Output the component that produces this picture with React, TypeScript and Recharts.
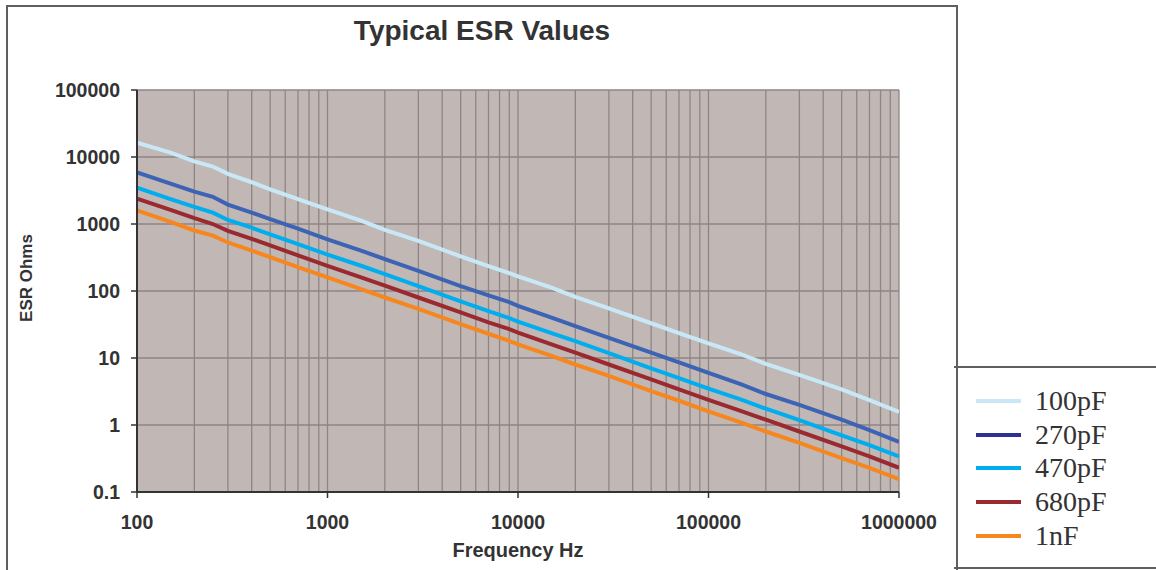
import { LineChart, Line, XAxis, YAxis, CartesianGrid } from "recharts";

// Frequencies (Hz) the curves were sampled at
const FREQ = [
  100, 150, 200, 250, 300, 400, 500, 700, 1000, 1500, 2000, 3000, 5000, 7000, 9000, 10000, 15000,
  20000, 30000, 50000, 70000, 100000, 150000, 200000, 300000, 500000, 700000, 1000000,
];

// ESR in ohms
const ESR_100PF = [
  16400, 11600, 8600, 7200, 5600, 4200, 3300, 2350, 1650, 1120, 820, 560, 330, 235, 185, 165, 112,
  82, 55, 33, 23.5, 16.5, 11.2, 8.2, 5.6, 3.4, 2.35, 1.57,
];
const ESR_270PF = [
  5900, 4000, 3050, 2550, 1950, 1480, 1180, 850, 590, 400, 300, 200, 118, 86, 68, 60, 40, 30, 20, 12,
  8.6, 6, 4, 2.9, 2, 1.2, 0.84, 0.56,
];
const ESR_470PF = [
  3500, 2350, 1800, 1480, 1150, 880, 700, 500, 350, 238, 178, 118, 70, 50, 39.5, 35, 23.5, 17.8,
  11.8, 7, 5, 3.5, 2.38, 1.75, 1.18, 0.7, 0.5, 0.34,
];
const ESR_680PF = [
  2400, 1620, 1220, 1000, 790, 600, 480, 340, 238, 160, 120, 80, 48, 34, 27, 24, 16, 12, 8, 4.8, 3.4,
  2.38, 1.6, 1.2, 0.8, 0.48, 0.34, 0.23,
];
const ESR_1NF = [
  1600, 1080, 800, 670, 530, 400, 320, 228, 160, 107, 80, 54, 32, 23, 18, 16, 10.8, 8, 5.4, 3.2, 2.3,
  1.6, 1.08, 0.8, 0.54, 0.32, 0.23, 0.155,
];

const X_DECADES = [100, 1000, 10000, 100000, 1000000];
const Y_TICKS = [0.1, 1, 10, 100, 1000, 10000, 100000];

const SERIES = [
  { key: "c100p", name: "100pF", values: ESR_100PF, color: "#c9e8f7", legend: "#c9e8f7" },
  { key: "c270p", name: "270pF", values: ESR_270PF, color: "#3d64b4", legend: "#2e3192" },
  { key: "c470p", name: "470pF", values: ESR_470PF, color: "#00adef", legend: "#00adef" },
  { key: "c680p", name: "680pF", values: ESR_680PF, color: "#9b2a30", legend: "#9b2a30" },
  { key: "c1n", name: "1nF", values: ESR_1NF, color: "#f7861e", legend: "#f7861e" },
];

const rows = FREQ.map((f, i) => {
  const r: Record<string, number> = { f };
  SERIES.forEach((s) => (r[s.key] = s.values[i]));
  return r;
});

// every 1..9 x decade gets a vertical grid line
const X_GRID: number[] = [];
X_DECADES.slice(0, -1).forEach((d) => {
  for (let m = 1; m < 10; m++) X_GRID.push(d * m);
});
X_GRID.push(1000000);

const FONT = '"Liberation Sans", Arial, sans-serif';
const INK = "#333333";
const PLOT_BG = "#c1b8b5";
const GRID = "#8e8585";

function XTick(props: any) {
  const { x, y, payload } = props;
  if (!X_DECADES.includes(payload.value)) return null;
  return (
    <g>
      <line x1={x} x2={x} y1={y} y2={y + 6} stroke={INK} strokeWidth={1.5} />
      <text
        x={x}
        y={y + 37}
        textAnchor="middle"
        fill={INK}
        fontFamily={FONT}
        fontWeight="bold"
        fontSize={19.5}
      >
        {payload.value}
      </text>
    </g>
  );
}

function YTitle(props: any) {
  const { viewBox } = props;
  const cx = 26;
  const cy = viewBox.y + viewBox.height / 2 - 13;
  return (
    <text
      x={cx}
      y={cy}
      transform={`rotate(-90 ${cx} ${cy})`}
      textAnchor="middle"
      dominantBaseline="central"
      fill={INK}
      fontFamily={FONT}
      fontWeight="bold"
      fontSize={17}
    >
      ESR Ohms
    </text>
  );
}

export default function App() {
  return (
    <div
      style={{
        position: "absolute",
        left: 0,
        top: 0,
        width: 1156,
        height: 570,
        background: "#fff",
        overflow: "hidden",
      }}
    >
      <div
        style={{
          position: "absolute",
          left: 6,
          top: 5,
          width: 952,
          height: 600,
          border: "2px solid #5f5f5f",
          boxSizing: "border-box",
        }}
      />
      <div
        style={{
          position: "absolute",
          left: 954,
          top: 366,
          width: 220,
          height: 203,
          borderTop: "2px solid #5f5f5f",
          borderBottom: "2px solid #5f5f5f",
          boxSizing: "border-box",
        }}
      />
      <div
        style={{
          position: "absolute",
          left: 7,
          width: 950,
          top: 15,
          textAlign: "center",
          fontFamily: FONT,
          fontWeight: "bold",
          fontSize: 28,
          color: INK,
        }}
      >
        Typical ESR Values
      </div>

      <div style={{ position: "absolute", left: 0, top: 0 }}>
        <LineChart
          width={957}
          height={570}
          data={rows}
          margin={{ top: 90, right: 58, bottom: 0, left: 0 }}
        >
          <CartesianGrid
            fill={PLOT_BG}
            fillOpacity={1}
            stroke={GRID}
            strokeWidth={1.3}
            horizontalValues={Y_TICKS}
          />
          <XAxis
            dataKey="f"
            type="number"
            scale="log"
            domain={[100, 1000000]}
            allowDataOverflow
            ticks={X_GRID}
            interval={0}
            tick={<XTick />}
            tickLine={false}
            tickSize={0}
            tickMargin={0}
            height={78}
            axisLine={{ stroke: INK, strokeWidth: 2 }}
            label={{
              value: "Frequency Hz",
              position: "insideBottom",
              offset: 13,
              fill: INK,
              fontFamily: FONT,
              fontWeight: "bold",
              fontSize: 20,
            }}
          />
          <YAxis
            type="number"
            scale="log"
            domain={[0.1, 100000]}
            allowDataOverflow
            ticks={Y_TICKS}
            interval={0}
            width={137}
            tickSize={6}
            tickMargin={11}
            tickFormatter={(v: number) => String(v)}
            tick={{ fill: INK, fontFamily: FONT, fontWeight: "bold", fontSize: 19.5 }}
            tickLine={{ stroke: INK, strokeWidth: 1.5 }}
            axisLine={{ stroke: INK, strokeWidth: 2 }}
            label={<YTitle />}
          />
          {SERIES.map((s) => (
            <Line
              key={s.key}
              dataKey={s.key}
              name={s.name}
              type="linear"
              stroke={s.color}
              strokeWidth={4}
              dot={false}
              isAnimationActive={false}
            />
          ))}
        </LineChart>
      </div>

      <div style={{ position: "absolute", left: 976, top: 384 }}>
        {SERIES.map((s) => (
          <div
            key={s.key}
            style={{ display: "flex", alignItems: "center", height: 33.7 }}
          >
            <div style={{ width: 45, height: 4, background: s.legend, marginRight: 14 }} />
            <span
              style={{
                fontFamily: '"Liberation Serif", "Times New Roman", serif',
                fontSize: 28,
                color: INK,
                lineHeight: 1,
              }}
            >
              {s.name}
            </span>
          </div>
        ))}
      </div>
    </div>
  );
}
